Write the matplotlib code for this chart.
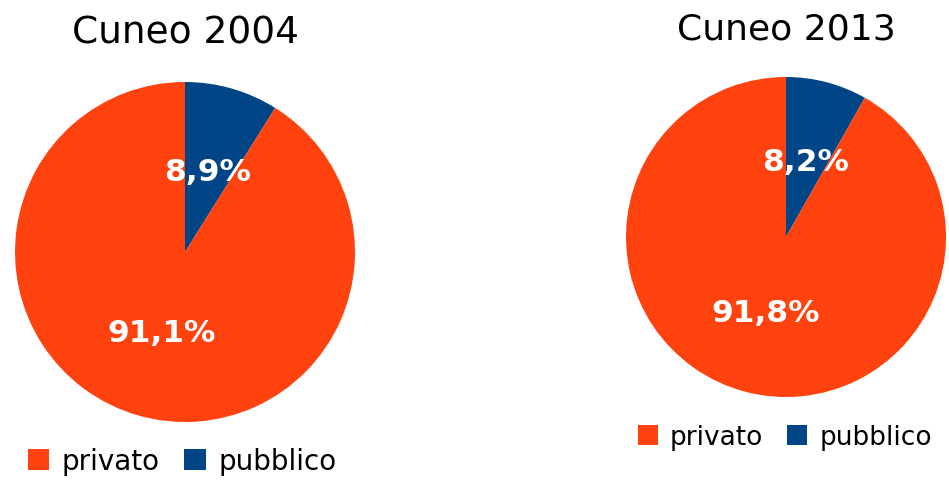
import matplotlib
matplotlib.use("Agg")
import matplotlib.pyplot as plt
from matplotlib.patches import Patch

W, H = 949, 481
categories = ["privato", "pubblico"]
titles = ["Cuneo 2004", "Cuneo 2013"]
values_2004 = [91.1, 8.9]
values_2013 = [91.8, 8.2]
colors = ["#FF420E", "#004586"]

fig = plt.figure(figsize=(W / 100, H / 100), dpi=100)

# pie centers and radii in pixels (from top-left)
specs = [
    dict(vals=values_2004, title=titles[0], cx=185, cy=253, r=170, ty=34, tfs=27,
         ly=462, lx=182, lfs=20),
    dict(vals=values_2013, title=titles[1], cx=786, cy=238, r=160, ty=30, tfs=26,
         ly=438, lx=785, lfs=19),
]

def fmt(p):
    return f"{p:.1f}%".replace(".", ",")

for s in specs:
    r = s["r"]
    ax = fig.add_axes([(s["cx"] - r) / W, 1 - (s["cy"] + r) / H, 2 * r / W, 2 * r / H])
    vals = s["vals"][::-1]  # pubblico first, clockwise from top
    cols = colors[::-1]
    wedges, texts, autotexts = ax.pie(
        vals, colors=cols, startangle=90, counterclock=False,
        autopct=fmt, pctdistance=0.49,
        wedgeprops=dict(linewidth=0),
        textprops=dict(color="white", fontsize=22.5, fontweight="bold", family="DejaVu Sans"),
    )
    ax.set_xlim(-1, 1)
    ax.set_ylim(-1, 1)
    ax.set_aspect("equal")
    ax.axis("off")
    fig.text(s["cx"] / W, 1 - s["ty"] / H, s["title"], ha="center", va="center",
             fontsize=s["tfs"], family="DejaVu Sans", color="black")
    handles = [Patch(facecolor=c, edgecolor="none") for c in colors]
    fig.legend(handles, categories, loc="center", bbox_to_anchor=(s["lx"] / W, 1 - s["ly"] / H),
               ncol=2, frameon=False, handlelength=0.76, handleheight=0.76,
               handletextpad=0.45, columnspacing=0.9, prop=dict(family="DejaVu Sans", size=s["lfs"]))

fig.savefig("out.png", dpi=100, facecolor="white")
